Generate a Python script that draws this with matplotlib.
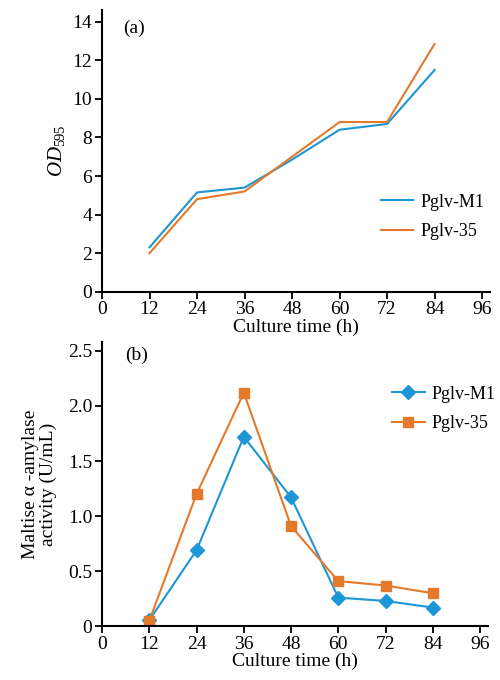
import matplotlib.pyplot as plt

plt.rcParams['font.family'] = ['Liberation Serif', 'DejaVu Serif']
plt.rcParams['mathtext.fontset'] = 'custom'
plt.rcParams['mathtext.rm'] = 'Liberation Serif'
plt.rcParams['mathtext.it'] = 'Liberation Serif:italic'

# culture time (h)
hours = [12, 24, 36, 48, 60, 72, 84]
x_ticks = [0, 12, 24, 36, 48, 60, 72, 84, 96]

# (a) OD595
od_m1 = [2.3, 5.15, 5.4, 6.85, 8.4, 8.7, 11.5]
od_35 = [2.0, 4.8, 5.2, 7.0, 8.8, 8.8, 12.85]
od_ticks = [0, 2, 4, 6, 8, 10, 12, 14]

# (b) maltase alpha-amylase activity (U/mL)
act_m1 = [0.055, 0.69, 1.72, 1.17, 0.26, 0.23, 0.17]
act_35 = [0.05, 1.20, 2.12, 0.91, 0.41, 0.37, 0.30]
act_ticks = [0, 0.5, 1.0, 1.5, 2.0, 2.5]
act_labels = ['0', '0.5', '1.0', '1.5', '2.0', '2.5']

names = ['Pglv-M1', 'Pglv-35']
blue = '#1c96d4'
orange = '#e4792b'

fig = plt.figure(figsize=(5, 6.8), dpi=100)
ax1 = fig.add_axes([0.204, 0.571, 0.776, 0.414])
ax2 = fig.add_axes([0.204, 0.079, 0.772, 0.418])

for ax in (ax1, ax2):
    ax.spines['top'].set_visible(False)
    ax.spines['right'].set_visible(False)
    ax.spines['left'].set_linewidth(1.5)
    ax.spines['bottom'].set_linewidth(1.5)
    ax.tick_params(direction='out', length=5, width=1.3, labelsize=14, pad=2)
    ax.set_xticks(x_ticks)
    ax.set_xlim(0, 98)
    ax.set_xlabel('Culture time (h)', fontsize=14, labelpad=0)

# top panel
ax1.plot(hours, od_m1, color=blue, lw=1.5, label=names[0])
ax1.plot(hours, od_35, color=orange, lw=1.5, label=names[1])
ax1.set_ylim(0, 14.6)
ax1.set_yticks(od_ticks)
ax1.set_ylabel('$\\mathit{OD}_{595}$', fontsize=15, labelpad=4)
ax1.text(0.055, 0.965, '(a)', transform=ax1.transAxes, fontsize=14, va='top')
ax1.legend(loc='upper left', bbox_to_anchor=(0.7, 0.374), frameon=False,
           fontsize=13, handlelength=1.8, handletextpad=0.4, labelspacing=0.7,
           borderaxespad=0)

# bottom panel
ax2.plot(hours, act_m1, color=blue, lw=1.5, marker='D', markersize=7,
         label=names[0])
ax2.plot(hours, act_35, color=orange, lw=1.5, marker='s', markersize=7,
         label=names[1])
ax2.set_ylim(0, 2.58)
ax2.set_yticks(act_ticks)
ax2.set_yticklabels(act_labels)
ax2.set_ylabel('Maltise \u03b1 -amylase\nactivity (U/mL)', fontsize=14,
               labelpad=8, linespacing=1.0)
ax2.text(0.06, 0.985, '(b)', transform=ax2.transAxes, fontsize=14, va='top')
ax2.legend(loc='upper left', bbox_to_anchor=(0.733, 0.872), frameon=False,
           fontsize=13, handlelength=1.8, handletextpad=0.4, labelspacing=0.7,
           borderaxespad=0)

fig.savefig('out.png', dpi=100)
